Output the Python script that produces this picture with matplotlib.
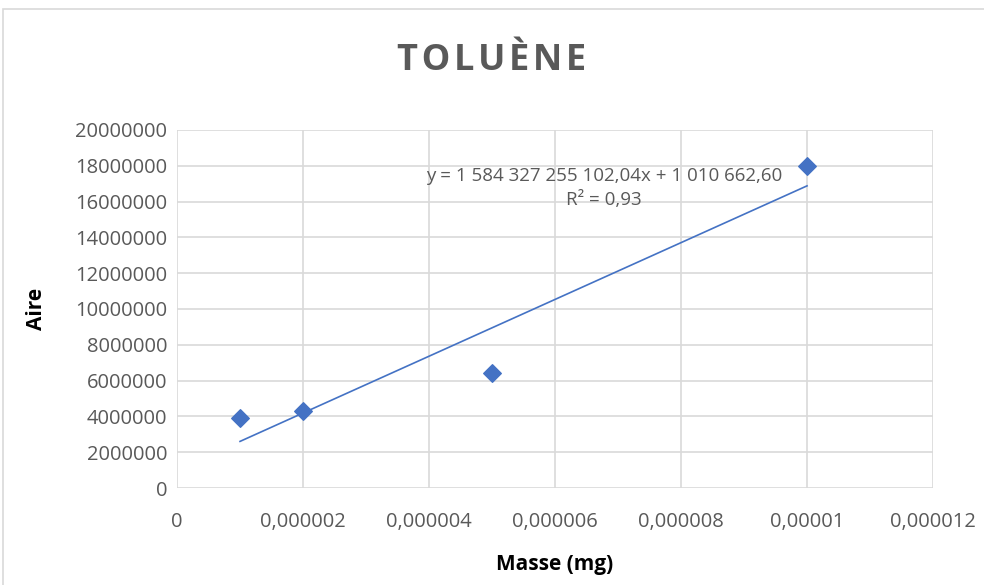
import numpy as np
import matplotlib.pyplot as plt
from matplotlib.patches import Rectangle
from matplotlib.ticker import FuncFormatter

# data
masse = [0.000001, 0.000002, 0.000005, 0.00001]
aire = [3910000, 4300000, 6420000, 17990000]
x_ticks = [0, 0.000002, 0.000004, 0.000006, 0.000008, 0.00001, 0.000012]
x_tick_labels = ["0", "0,000002", "0,000004", "0,000006", "0,000008", "0,00001", "0,000012"]
y_ticks = list(range(0, 20000001, 2000000))

plt.rcParams['font.family'] = ['Open Sans', 'DejaVu Sans']

fig = plt.figure(figsize=(9.84, 5.85), dpi=100)
ax = fig.add_axes([0.1799, 0.1658, 0.7683, 0.612])

# chart border
fig.patches.append(Rectangle((3 / 984, -0.01), 1.02, (576 / 585) + 0.01, transform=fig.transFigure,
                             fill=False, edgecolor='#d9d9d9', linewidth=1.2))

ax.scatter(masse, aire, marker='D', s=80, color='#4472c4', zorder=3)

# linear trendline
slope, intercept = np.polyfit(masse, aire, 1)
xs = np.array([masse[0], masse[-1]])
ax.plot(xs, slope * xs + intercept, color='#4472c4', linewidth=1.2, zorder=2)

ax.text(0.565, 0.8715, "y = 1 584 327 255 102,04x + 1 010 662,60", transform=ax.transAxes,
        ha='center', va='center', fontsize=13.5, color='#595959')
ax.text(0.565, 0.804, "R² = 0,93", transform=ax.transAxes,
        ha='center', va='center', fontsize=13.5, color='#595959')

ax.set_xlim(0, 0.000012)
ax.set_ylim(0, 20000000)
ax.set_xticks(x_ticks)
ax.set_xticklabels(x_tick_labels)
ax.set_yticks(y_ticks)
ax.yaxis.set_major_formatter(FuncFormatter(lambda v, p: f"{int(v)}"))
ax.grid(True, color='#d9d9d9', linewidth=1.2)
ax.set_axisbelow(True)
for s in ax.spines.values():
    s.set_visible(False)
ax.tick_params(length=0, labelsize=14.5, colors='#595959', pad=7)
ax.tick_params(axis='x', pad=17)

ax.set_xlabel("Masse (mg)", fontsize=15, fontweight='bold', color='black', labelpad=16)
ax.set_ylabel("Aire", fontsize=15, fontweight='bold', color='black', labelpad=20)

# letter-spaced title (hair spaces between letters)
fig.text(0.5, 0.896, "\u200a".join("TOLUÈNE"), ha='center', va='center', fontsize=26,
         fontweight='bold', color='#595959')

fig.savefig("out.png", dpi=100)
